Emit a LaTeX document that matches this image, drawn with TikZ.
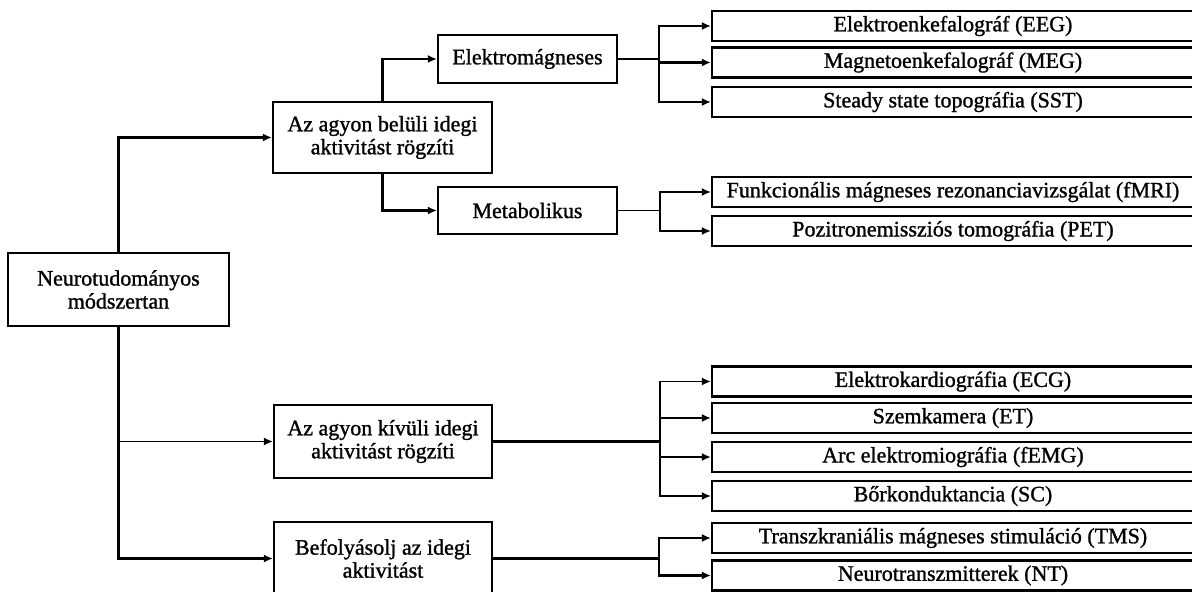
\documentclass[tikz,border=0pt]{standalone}
\usepackage{fontspec}
\setmainfont{Liberation Serif}
\newfontfamily\labelfont[FakeBold=1.2]{Liberation Serif}
\usetikzlibrary{arrows.meta}
\begin{document}
\begin{tikzpicture}[x=0.5pt,y=-0.5pt,
  box/.style={draw, line width=1.1pt, align=center, inner sep=0pt,
    font=\labelfont\fontsize{11}{11.5}\selectfont},
  leaf/.style={box, minimum width=241pt, minimum height=15pt},
  link/.style={line width=1.4pt, -{Latex[length=4.5pt,width=4pt]}},
  thinlink/.style={line width=0.8pt, -{Latex[length=4.5pt,width=4pt]}},
  bar/.style={line width=1.4pt},
  thinbar/.style={line width=0.8pt}]
\useasboundingbox (0,0) rectangle (1192,592);

% main categories
\node[box, minimum width=110.5pt, minimum height=36.5pt] (root) at (118.5,289.5)
  {Neurotudományos\\módszertan};
\node[box, minimum width=109.5pt, minimum height=35.5pt] (in) at (382.5,137.5)
  {Az agyon belüli idegi\\aktivitást rögzíti};
\node[box, minimum width=109pt, minimum height=36.5pt] (out) at (383,441.5)
  {Az agyon kívüli idegi\\aktivitást rögzíti};
\node[box, minimum width=109pt, minimum height=36.5pt] (infl) at (383,558.5)
  {Befolyásolj az idegi\\aktivitást};
\node[box, minimum width=89.5pt, minimum height=24pt] (em) at (527.5,59)
  {Elektromágneses};
\node[box, minimum width=89.5pt, minimum height=23.5pt] (met) at (527.5,210.5)
  {Metabolikus};

% methods
\node[leaf] (eeg)  at (953,26)    {Elektroenkefalográf (EEG)};
\node[leaf] (meg)  at (953,62.5)  {Magnetoenkefalográf (MEG)};
\node[leaf] (sst)  at (953,102)   {Steady state topográfia (SST)};
\node[leaf] (fmri) at (953,192)   {Funkcionális mágneses rezonanciavizsgálat (fMRI)};
\node[leaf] (pet)  at (953,231)   {Pozitronemissziós tomográfia (PET)};
\node[leaf] (ecg)  at (953,381.5) {Elektrokardiográfia (ECG)};
\node[leaf] (et)   at (953,418)   {Szemkamera (ET)};
\node[leaf] (femg) at (953,457)   {Arc elektromiográfia (fEMG)};
\node[leaf] (sc)   at (953,496)   {Bőrkonduktancia (SC)};
\node[leaf] (tms)  at (953,538)   {Transzkraniális mágneses stimuláció (TMS)};
\node[leaf] (nt)   at (953,575.5) {Neurotranszmitterek (NT)};

% branching points
\coordinate (f1) at (659,59);
\coordinate (f2) at (660,210.5);
\coordinate (f3) at (660,441.5);
\coordinate (f4) at (659,558.5);

% root to categories
\draw[link] (root.north) |- (in.west);
\draw[link] (root.south) |- (infl.west);
\draw[thinlink] (root.south |- out.west) -- (out.west);

% inner activity
\draw[link] (in.north) |- (em.west);
\draw[link] (in.south) |- (met.west);

\draw[bar] (em.east) -- (f1);
\draw[link] (f1) |- (eeg.west);
\draw[link] (f1) |- (meg.west);
\draw[link] (f1) |- (sst.west);

\draw[thinbar] (met.east) -- (f2);
\draw[thinlink] (f2) |- (fmri.west);
\draw[thinlink] (f2) |- (pet.west);

% outer activity
\draw[bar] (out.east) -- (f3);
\draw[thinlink] (f3) |- (ecg.west);
\draw[link] (f3) |- (et.west);
\draw[link] (f3) |- (femg.west);
\draw[thinlink] (f3) |- (sc.west);

% influencing
\draw[bar] (infl.east) -- (f4);
\draw[link] (f4) |- (tms.west);
\draw[link] (f4) |- (nt.west);
\end{tikzpicture}
\end{document}
